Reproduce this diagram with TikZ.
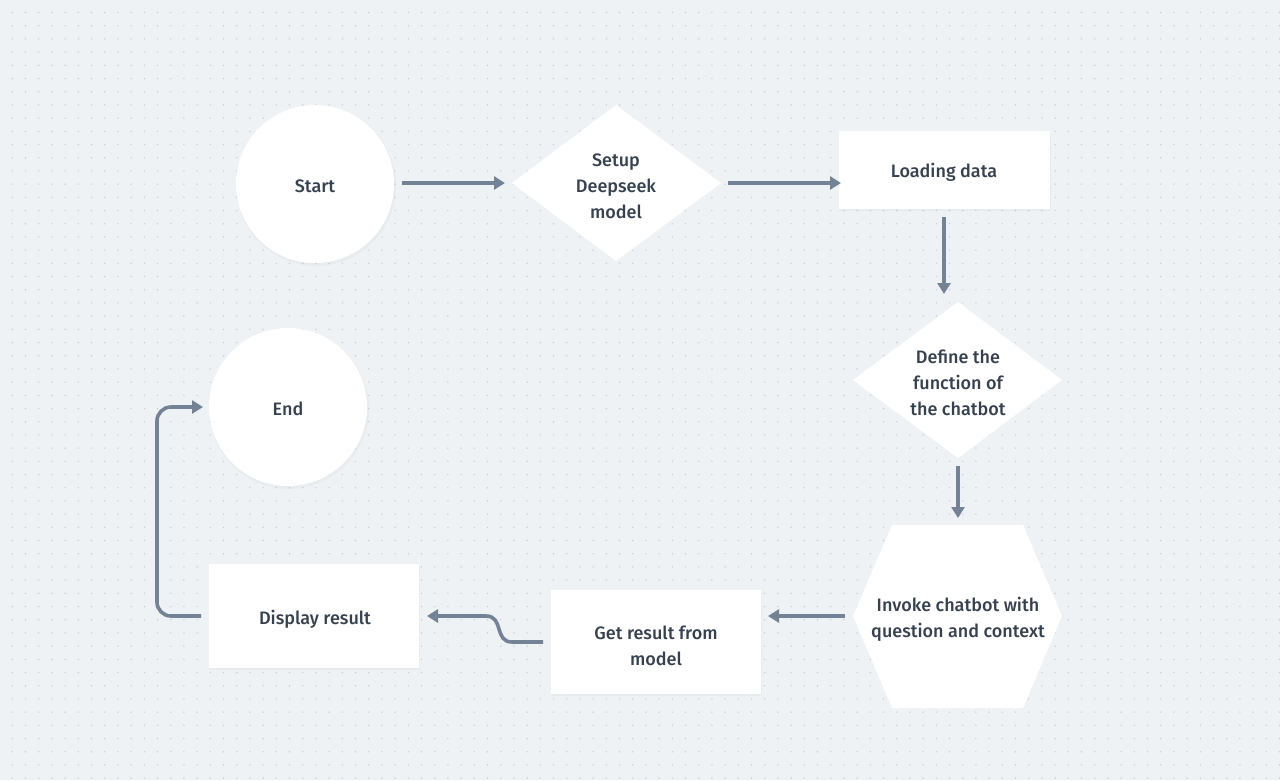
\documentclass[tikz,border=0pt]{standalone}
\usepackage{fontspec}
\setmainfont{Fira Sans}[UprightFont=* Medium]
\usetikzlibrary{arrows.meta,shapes.geometric}
\definecolor{bgc}{HTML}{EEF2F5}
\definecolor{dotc}{HTML}{C5CDD6}
\definecolor{arrc}{HTML}{738395}
\definecolor{txtc}{HTML}{364150}
\tikzset{
  x=1pt, y=-1pt,
  every node/.style={font=\fontsize{18}{26}\selectfont, text=txtc, align=center},
  conn/.style={draw=arrc, line width=3.6pt, -{Triangle[length=11pt,width=13pt]}, rounded corners=14pt},
}
\begin{document}
\begin{tikzpicture}
\fill[bgc] (0,0) rectangle (1280,780);
\useasboundingbox (0,0) rectangle (1280,780);
\foreach \i in {0,...,96}{
  \foreach \j in {0,...,58}{
    \fill[dotc] ({12.3+13.2*\i},{12.5+13.2*\j}) circle (0.8);
  }
}
% shadows
\begin{scope}[fill=black, opacity=0.025]
  \fill (316,186) circle (80);
  \fill (289,409) circle (80);
  \fill (839,133) rectangle (1051,211);
  \fill (551,592) rectangle (762,696);
  \fill (209,566) rectangle (420,670);
\end{scope}
% nodes
\fill[white] (315,184) circle (79);
\node (start) at (315,186) {Start};
\fill[white] (616,105) -- (721,183) -- (616,261) -- (512,183) -- cycle;
\node (setup) at (616,186) {Setup\\Deepseek\\model};
\fill[white] (839,131) rectangle (1050,209);
\node (load) at (944,172) {Loading data};
\fill[white] (958,302) -- (1062,380) -- (958,458) -- (853,380) -- cycle;
\node (define) at (958,383) {Define the\\function of\\the chatbot};
\fill[white] (892,525) -- (1023,525) -- (1062,616) -- (1023,708) -- (892,708) -- (853,616) -- cycle;
\node (invoke) at (958,619) {Invoke chatbot with\\question and context};
\fill[white] (551,590) rectangle (761,694);
\node (get) at (656,646) {Get result from\\model};
\fill[white] (209,564) rectangle (419,668);
\node (disp) at (315,619) {Display result};
\fill[white] (288,407) circle (79);
\node (end) at (288,409) {End};
% connectors
\coordinate (a1) at (402,183); \coordinate (a2) at (505,183);
\coordinate (b1) at (728,183); \coordinate (b2) at (841,183);
\coordinate (c1) at (944,217); \coordinate (c2) at (944,294);
\coordinate (d1) at (958,466); \coordinate (d2) at (958,518);
\coordinate (e1) at (845,616); \coordinate (e2) at (768,616);
\coordinate (f1) at (543,642); \coordinate (f2) at (427,616);
\coordinate (g1) at (201,616); \coordinate (g2) at (203,407);
\draw[conn] (a1) -- (a2);
\draw[conn] (b1) -- (b2);
\draw[conn] (c1) -- (c2);
\draw[conn] (d1) -- (d2);
\draw[conn] (e1) -- (e2);
\draw[conn, rounded corners=0pt] (f1) -- (512,642) .. controls (494,642) and (504,616) .. (486,616) -- (f2);
\draw[conn] (g1) -- (157,616) -- (157,407) -- (g2);
\end{tikzpicture}
\end{document}
